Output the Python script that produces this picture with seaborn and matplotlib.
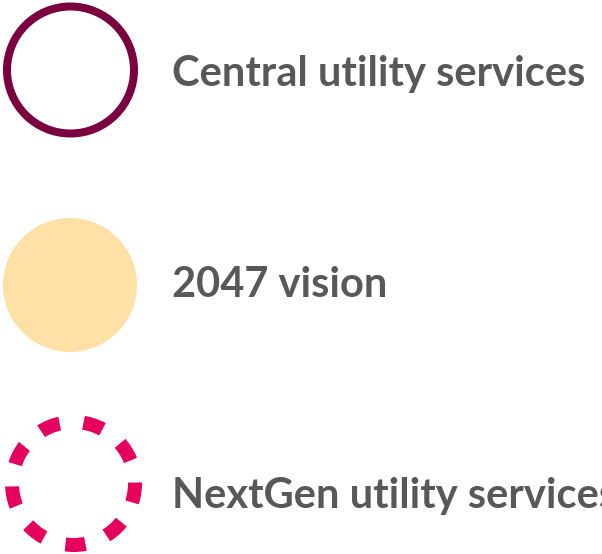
import numpy as np
import matplotlib
matplotlib.use("Agg")
import matplotlib.pyplot as plt
import matplotlib.patches as mpatches
import seaborn as sns

# legend entries
labels = ["Central utility services", "2047 vision", "NextGen utility services"]
styles = ["outline", "filled", "dashed"]
colors = ["#7A0040", "#FFE0A6", "#E6005E"]

sns.set_theme(style="white")
plt.rcParams["font.family"] = ["Lato", "DejaVu Sans"]
plt.rcParams["lines.scale_dashes"] = False

fig = plt.figure(figsize=(6.02, 5.54), dpi=100)
ax = fig.add_axes([0, 0, 1, 1])
ax.set_xlim(0, 602)
ax.set_ylim(554, 0)
ax.set_aspect("equal")
ax.axis("off")

centers = [(70.5, 70), (70, 285), (73.5, 483.5)]
text_y = [86, 297, 508]

for (cx, cy), style, color in zip(centers, styles, colors):
    if style == "outline":
        ax.add_patch(mpatches.Circle((cx, cy), 63.5, fill=False, edgecolor=color, linewidth=8 * 0.72))
    elif style == "filled":
        ax.add_patch(mpatches.Circle((cx, cy), 67, facecolor=color, edgecolor="none"))
    else:
        on, off = 14.5, 16.3
        ax.add_patch(mpatches.Circle((cx, cy), 61.5, fill=False, edgecolor=color, linewidth=14 * 0.72,
                                     linestyle=(on + off - on / 2, (on, off))))

for lab, ty in zip(labels, text_y):
    ax.text(172, ty, lab, fontsize=30, fontweight="bold", color="#58585A", va="baseline", ha="left")

fig.savefig("out.png", dpi=100)
